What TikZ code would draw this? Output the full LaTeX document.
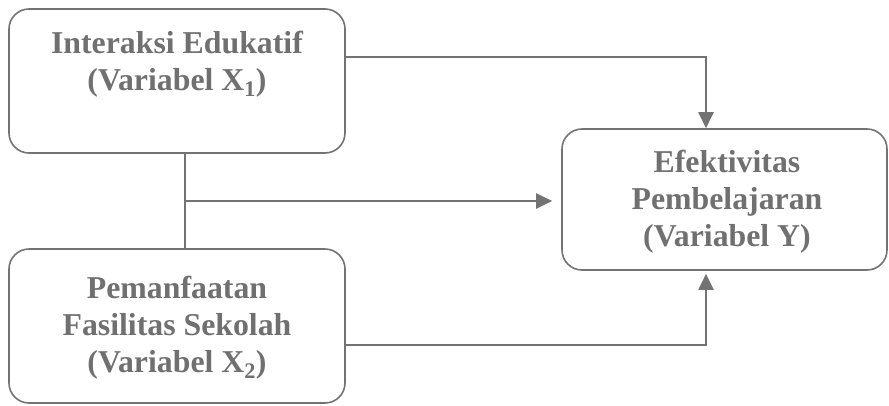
\documentclass[tikz,border=0pt]{standalone}
\usepackage{fontspec}
\setmainfont{Liberation Serif}
\usetikzlibrary{arrows.meta}
\definecolor{dgray}{HTML}{737373}
\definecolor{tgray}{HTML}{707070}
\begin{document}
\begin{tikzpicture}[x=1pt,y=-1pt,
  box/.style={draw=dgray, line width=1.6pt, rounded corners=20pt, inner sep=0pt},
  lbl/.style={inner sep=0pt, align=center, text=tgray, font=\fontsize{31.8}{37}\selectfont\bfseries},
  conn/.style={draw=dgray, line width=2pt},
  arr/.style={conn, -{Triangle[length=16pt,width=15pt]}}]
\useasboundingbox[fill=white] (0,0) rectangle (889,405);
\node[box, minimum width=336pt, minimum height=144pt] (a) at (177,81) {};
\node[box, minimum width=336pt, minimum height=154pt] (b) at (177,326) {};
\node[box, minimum width=325pt, minimum height=141pt] (y) at (724.5,199.5) {};
\node[lbl] (ta) at (177,64) {Interaksi Edukatif\\(Variabel X\textsubscript{1})};
\node[lbl] (tb) at (177,328) {Pemanfaatan\\Fasilitas Sekolah\\(Variabel X\textsubscript{2})};
\node[lbl] (ty) at (727,202) {Efektivitas\\Pembelajaran\\(Variabel Y)};
\coordinate (m) at (185,201);
\draw[arr] ([yshift=24pt]a.east) -| ([xshift=-18.5pt]y.north);
\draw[conn] ([xshift=8pt]a.south) -- ([xshift=8pt]b.north);
\draw[arr] (m) -- ([xshift=-9pt]y.west |- m);
\draw[arr] ([yshift=-19pt]b.east) -| ([xshift=-18.5pt,yshift=-3pt]y.south);
\end{tikzpicture}
\end{document}
